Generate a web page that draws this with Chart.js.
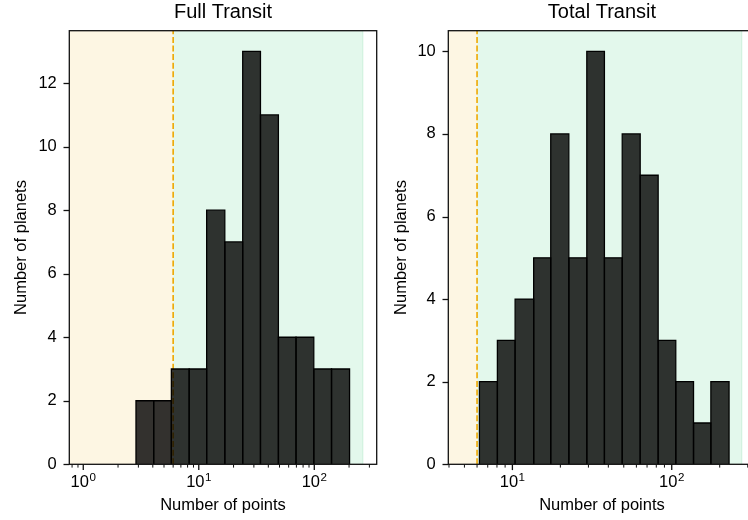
<!DOCTYPE html>
<html><head><meta charset="utf-8">
<script src="https://cdn.jsdelivr.net/npm/chart.js@4"></script>
<style>
html,body{margin:0;padding:0;background:#fff;overflow:hidden;width:748px;height:520px;}
#c1{position:absolute;left:0;top:0;}
#c2{position:absolute;left:380px;top:0;}
</style></head><body>
<canvas id="c1" width="390" height="520"></canvas>
<canvas id="c2" width="400" height="520"></canvas>
<script>
// ---- data ----
const fullEdges = [2.86, 4.07, 5.79, 8.26, 11.7, 16.8, 24.0, 34.2, 48.9, 69.5, 99.0, 141, 202];
const fullCounts = [2, 2, 3, 3, 8, 7, 13, 11, 4, 4, 3, 3];
const totalEdges = [6.21, 8.05, 10.4, 13.6, 17.4, 22.6, 29.3, 37.8, 48.9, 63.4, 82.2, 106, 137, 176, 229];
const totalCounts = [2, 3, 4, 5, 8, 5, 10, 5, 8, 7, 3, 2, 1, 2];
const fullYTicks = [0, 2, 4, 6, 8, 10, 12];
const totalYTicks = [0, 2, 4, 6, 8, 10];
const xMajorTicks = [1, 10, 100];
const threshold = 6;
const fullGreenEnd = 263;
const totalGreenEnd = 275;
const fullXRange = [0.757, 347];
const totalXRange = [3.96, 336];
const fullYMax = 13.65;
const totalYMax = 10.5;
const titles = ['Full Transit', 'Total Transit'];
const xLabel = 'Number of points';
const yLabel = 'Number of planets';

// ---- styling ----
const FONT = '"Liberation Sans", Arial, Helvetica, sans-serif';
const YELLOW = '#fdf6e3';
const GREEN = '#e3f8ec';
const BAR_FILL = 'rgba(0,0,0,0.8)';
Chart.defaults.font.family = FONT;
Chart.defaults.color = '#000';

function decoPlugin(opt) {
  return {
    id: 'deco',
    beforeDatasetsDraw(chart) {
      const {ctx, chartArea: a, scales: {x}} = chart;
      ctx.save();
      ctx.beginPath(); ctx.rect(a.left, a.top, a.width, a.height); ctx.clip();
      const xT = x.getPixelForValue(threshold);
      const xG = x.getPixelForValue(opt.greenEnd);
      ctx.fillStyle = YELLOW;
      ctx.fillRect(a.left, a.top, xT - a.left, a.height);
      ctx.fillStyle = GREEN;
      ctx.fillRect(xT, a.top, xG - xT, a.height);
      ctx.strokeStyle = '#cdf1dc';
      ctx.lineWidth = 1;
      ctx.beginPath(); ctx.moveTo(xG, a.top); ctx.lineTo(xG, a.bottom); ctx.stroke();
      ctx.restore();
    },
    afterDraw(chart) {
      const {ctx, chartArea: a, scales: {x, y}} = chart;
      ctx.save();
      ctx.strokeStyle = '#111';
      ctx.lineWidth = 1.3;
      ctx.strokeRect(a.left, a.top, a.width, a.height);
      // y ticks
      opt.yTicks.forEach(v => {
        const py = Math.round(y.getPixelForValue(v)) + 0.5;
        ctx.beginPath(); ctx.moveTo(a.left, py); ctx.lineTo(a.left - 5.8, py); ctx.stroke();
      });
      // x major ticks
      xMajorTicks.forEach(v => {
        if (v < x.min || v > x.max) return;
        const px = x.getPixelForValue(v);
        ctx.lineWidth = 1.3;
        ctx.beginPath(); ctx.moveTo(px, a.bottom); ctx.lineTo(px, a.bottom + 5.8); ctx.stroke();
      });
      // x minor ticks
      ctx.lineWidth = 1.0;
      [0.1, 1, 10, 100].forEach(d => {
        for (let m = 2; m <= 9; m++) {
          const v = d * m;
          if (v < x.min || v > x.max) continue;
          const px = x.getPixelForValue(v);
          ctx.beginPath(); ctx.moveTo(px, a.bottom); ctx.lineTo(px, a.bottom + 3.3); ctx.stroke();
        }
      });
      // x tick labels 10^n
      ctx.fillStyle = '#000';
      ctx.textBaseline = 'alphabetic';
      ctx.textAlign = 'left';
      xMajorTicks.forEach(v => {
        if (v < x.min || v > x.max) return;
        const px = x.getPixelForValue(v);
        const exp = String(Math.round(Math.log10(v)));
        ctx.font = '16.5px ' + FONT;
        const w1 = ctx.measureText('10').width;
        ctx.font = '11.6px ' + FONT;
        const w2 = ctx.measureText(exp).width;
        const x0 = px - (w1 + w2 + 0.5) / 2;
        ctx.font = '16.5px ' + FONT;
        ctx.fillText('10', x0, a.bottom + 22.4);
        ctx.font = '11.6px ' + FONT;
        ctx.fillText(exp, x0 + w1 + 0.5, a.bottom + 16.2);
      });
      ctx.restore();
    }
  };
}

function binDatasets(edges, counts) {
  return counts.map((c, i) => ({
    data: [{x: edges[i], y: 0}, {x: edges[i], y: c}, {x: edges[i + 1], y: c}, {x: edges[i + 1], y: 0}],
    showLine: true, fill: 'origin', backgroundColor: BAR_FILL, borderColor: '#000',
    borderWidth: 1.3, pointRadius: 0, tension: 0
  }));
}

function makeChart(id, opt) {
  const datasets = binDatasets(opt.edges, opt.counts);
  datasets.push({
    data: [{x: threshold, y: 0}, {x: threshold, y: opt.yMax}],
    showLine: true, fill: false, borderColor: '#eea800', borderWidth: 1.6,
    borderDash: [6, 2.6], pointRadius: 0
  });
  return new Chart(document.getElementById(id), {
    type: 'scatter',
    data: {datasets},
    plugins: [decoPlugin(opt)],
    options: {
      responsive: false, animation: false, devicePixelRatio: 1,
      layout: {padding: {left: 0, top: 0, bottom: 0, right: opt.padRight}},
      plugins: {
        legend: {display: false}, tooltip: {enabled: false},
        title: {display: true, text: opt.title, fullSize: false, color: '#000',
          font: {size: 20, weight: 'normal', family: FONT}, padding: {top: 0.5, bottom: 6.2}}
      },
      scales: {
        x: {
          type: 'logarithmic', min: opt.xRange[0], max: opt.xRange[1],
          grid: {display: false, drawTicks: false}, border: {display: false},
          ticks: {display: false},
          title: {display: true, text: xLabel, color: '#000', font: {size: 16.5, family: FONT}, padding: {top: 0, bottom: 4.8}},
          afterFit: s => { s.height = 55.7; }
        },
        y: {
          type: 'linear', min: 0, max: opt.yMax,
          grid: {display: false, drawTicks: false}, border: {display: false},
          ticks: {padding: 12.5, color: '#000', font: {size: 16.5, family: FONT}},
          afterBuildTicks: s => { s.ticks = opt.yTicks.map(v => ({value: v})); },
          title: {display: true, text: yLabel, color: '#000', font: {size: 16.5, family: FONT}, padding: {top: 11.1, bottom: 0}},
          afterFit: s => { s.width = opt.yWidth; }
        }
      }
    }
  });
}

makeChart('c1', {edges: fullEdges, counts: fullCounts, yTicks: fullYTicks, xRange: fullXRange,
  yMax: fullYMax, greenEnd: fullGreenEnd, title: titles[0], padRight: 13.3, yWidth: 69.3});
makeChart('c2', {edges: totalEdges, counts: totalCounts, yTicks: totalYTicks, xRange: totalXRange,
  yMax: totalYMax, greenEnd: totalGreenEnd, title: titles[1], padRight: 24.4, yWidth: 68.3});
</script>
</body></html>
